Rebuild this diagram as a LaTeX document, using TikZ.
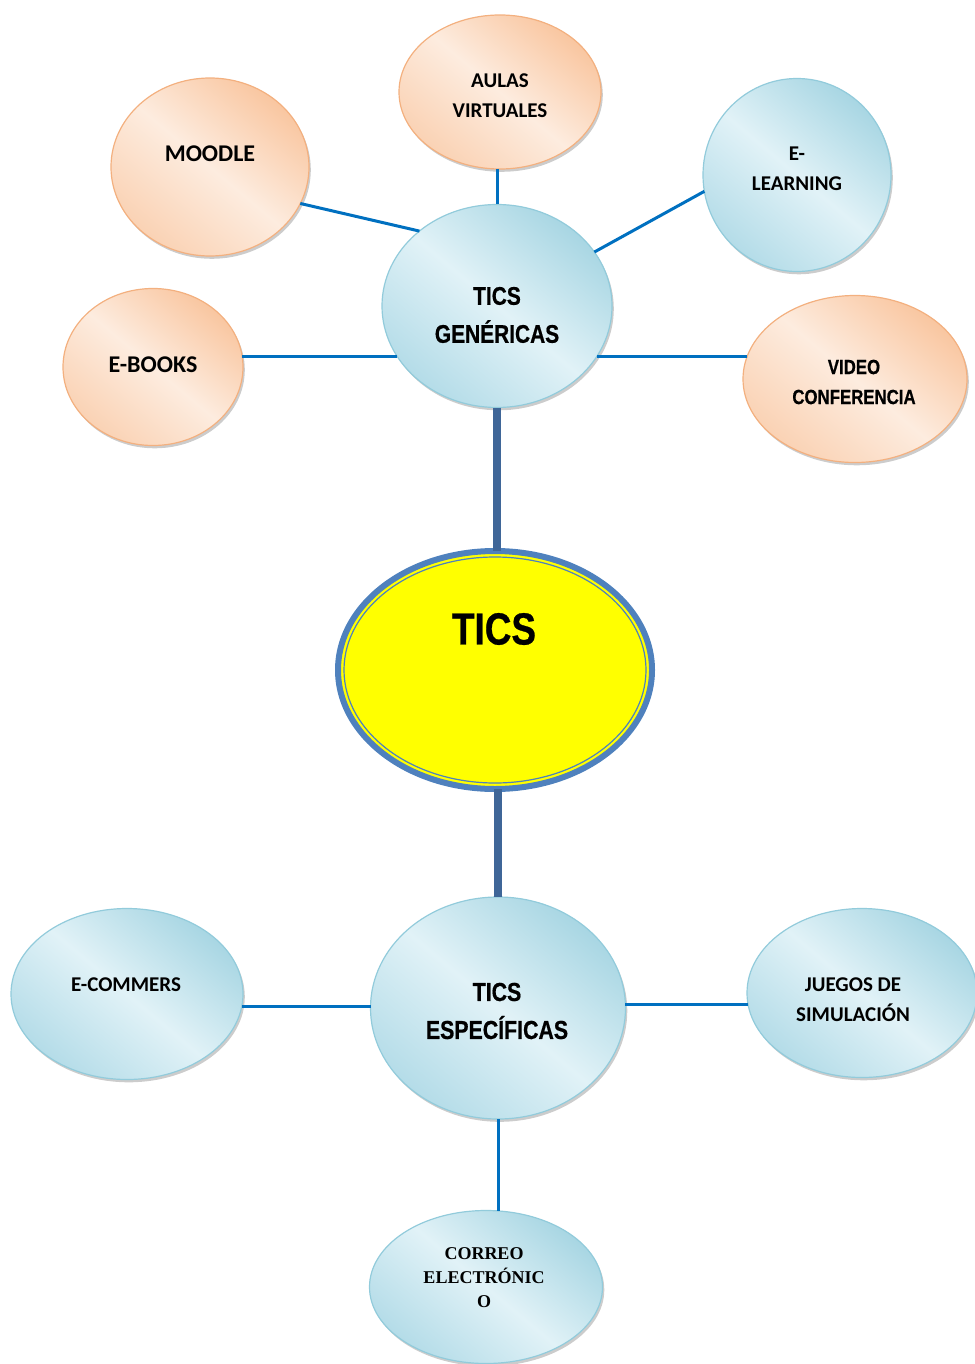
\documentclass[tikz,border=0pt]{standalone}
\usepackage{fontspec}
\setmainfont{Liberation Sans}
\newfontfamily\narrowf[FakeStretch=0.82,FakeBold=0.6]{Liberation Sans}
\newfontfamily\calf{Carlito}
\newfontfamily\timesf{Liberation Serif}
\usetikzlibrary{shapes.geometric,shadows}
\definecolor{bluedark}{HTML}{A8D6E3}
\definecolor{bluelight}{HTML}{E1F2F7}
\definecolor{bluemid}{HTML}{B4DCE8}
\definecolor{blueline}{HTML}{92CBDB}
\definecolor{peachdark}{HTML}{F9C6A0}
\definecolor{peachlight}{HTML}{FDECDF}
\definecolor{peachmid}{HTML}{FAD2B4}
\definecolor{peachline}{HTML}{F3B07F}
\definecolor{conn}{HTML}{0070C0}
\definecolor{mainconn}{HTML}{3F6698}
\definecolor{ticsblue}{HTML}{4F81BD}
\definecolor{ticsyellow}{HTML}{FFFF00}
\begin{document}
\begin{tikzpicture}[x=1pt,y=-1pt,
  bubble/.style={ellipse, inner sep=0pt, outer sep=0pt, line width=1.2pt,
    drop shadow={shadow xshift=1.8pt,shadow yshift=-2.8pt,fill=black!40}},
  bluebub/.style={bubble, draw=blueline, top color=bluedark, bottom color=bluemid, middle color=bluelight, shading angle=-40},
  peachbub/.style={bubble, draw=peachline, top color=peachdark, bottom color=peachmid, middle color=peachlight, shading angle=-40},
  narrowlbl/.style={align=center, inner sep=0pt, font=\narrowf\bfseries},
  callbl/.style={align=center, inner sep=0pt, font=\calf\bfseries},
  thin/.style={draw=conn, line width=3pt},
  thick/.style={draw=mainconn, line width=8pt}
]
\useasboundingbox (0,0) rectangle (974,1364);

% top level nodes
\node[peachbub, minimum width=202pt, minimum height=154pt] (aulas) at (500,92) {};
\node[peachbub, minimum width=198pt, minimum height=178pt] (moodle) at (210,167) {};
\node[bluebub, minimum width=188pt, minimum height=193pt] (elearn) at (797,175) {};
\node[bluebub, minimum width=230pt, minimum height=203pt] (gen) at (497,306) {};
\node[peachbub, minimum width=180pt, minimum height=157pt] (ebooks) at (153,367) {};
\node[peachbub, minimum width=224pt, minimum height=167pt] (video) at (855,379) {};

% central node
\node[ellipse, inner sep=0pt, outer sep=0pt, fill=ticsyellow, draw=ticsblue, line width=6pt,
      minimum width=314pt, minimum height=238pt] (tics) at (495,670) {};
\draw[ticsblue, line width=1.2pt] (tics.center) ellipse (151 and 113);

% bottom nodes
\node[bluebub, minimum width=232pt, minimum height=171pt] (ecom) at (127,994) {};
\node[bluebub, minimum width=255pt, minimum height=222pt] (esp) at (498,1008) {};
\node[bluebub, minimum width=230pt, minimum height=169pt] (juegos) at (862,993) {};
\node[bluebub, minimum width=233pt, minimum height=153pt] (correo) at (486,1287) {};

% labels
\node[callbl, font=\calf\bfseries\fontsize{21}{30}\selectfont] (aulast) at (500,96) {AULAS\\VIRTUALES};
\node[callbl, font=\calf\bfseries\fontsize{24}{30}\selectfont] (moodlet) at (210,154) {MOODLE};
\node[callbl, font=\calf\bfseries\fontsize{21}{30}\selectfont] (elearnt) at (797,169) {E-\\LEARNING};
\node[narrowlbl, font=\narrowf\bfseries\fontsize{25.5}{38}\selectfont] (gent) at (497,315) {TICS\\GENÉRICAS};
\node[callbl, font=\calf\bfseries\fontsize{24}{30}\selectfont] (ebookst) at (153,365) {E-BOOKS};
\node[narrowlbl, font=\narrowf\bfseries\fontsize{20.5}{30}\selectfont] (videot) at (854,382) {VIDEO\\CONFERENCIA};
\node[narrowlbl, font=\narrowf\bfseries\fontsize{45}{50}\selectfont] (ticst) at (494,629) {TICS};
\node[callbl, font=\calf\bfseries\fontsize{21}{30}\selectfont] (ecomt) at (126,985) {E-COMMERS};
\node[narrowlbl, font=\narrowf\bfseries\fontsize{26}{38}\selectfont] (espt) at (497,1011) {TICS\\ESPECÍFICAS};
\node[callbl, font=\calf\bfseries\fontsize{21}{30}\selectfont] (juegost) at (853,1000) {JUEGOS DE\\SIMULACIÓN};
\node[align=center, inner sep=0pt, font=\timesf\bfseries\fontsize{18}{24}\selectfont] (correot) at (484,1278) {CORREO\\ELECTRÓNIC\\O};

% main connectors
\draw[thick] (gen.south) -- (gen.south |- tics.north);
\draw[thick] (esp.north |- tics.south) -- (esp.north);

% thin connectors
\draw[thin] (aulas.south -| gen.north) -- (gen.north);
\draw[thin] (moodle.-22) -- (gen.136);
\draw[thin] (elearn.190) -- (gen.29);
\draw[thin] (ebooks.7) -- (ebooks.7 -| gen.207);
\draw[thin] (video.168) -- (video.168 -| gen.-27);
\draw[thin] (ecom.-6) -- (ecom.-6 -| esp.181);
\draw[thin] (juegos.186) -- (juegos.186 -| esp.-1);
\draw[thin] (esp.south) -- (esp.south |- correo.north);
\end{tikzpicture}
\end{document}
